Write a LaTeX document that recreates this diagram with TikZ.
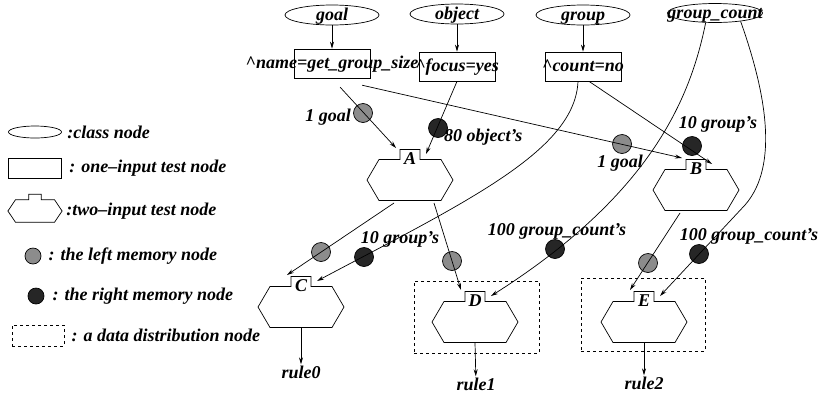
\documentclass[tikz,border=0pt]{standalone}
\usepackage{fontspec}
\setmainfont{Liberation Serif}
\usetikzlibrary{positioning,shapes.geometric,arrows.meta}
\definecolor{lgray}{HTML}{8C8C8C}
\definecolor{dgray}{HTML}{262626}
\newcommand{\boxtxt}[1]{\smash{\makebox[0pt]{\raisebox{-.3em}{#1}}}}
\tikzset{
	classnode/.style={draw, ellipse, inner sep=0pt, minimum width=94pt, minimum height=20pt},
	onein/.style={draw, rectangle, inner sep=0pt, minimum width=76pt, minimum height=29pt},
	lmem/.style={draw, circle, fill=lgray, inner sep=0pt, minimum size=19pt},
	rmem/.style={draw, circle, fill=dgray, inner sep=0pt, minimum size=19pt},
	distbox/.style={draw, dashed, inner sep=0pt},
	lbl/.style={inner sep=1pt},
	twoin/.pic={
			\draw (-43,0) -- (-31,-20.5) -- (-10,-20.5) -- (-10,-30.5) -- (10,-30.5)
			-- (10,-20.5) -- (31,-20.5) -- (43,0) -- (31,20.5) -- (-31,20.5) -- cycle;
			\node[inner sep=0pt] (-t) at (0,-21) {#1};
			\coordinate (-l) at (-14,-32);
			\coordinate (-r) at (16,-26);
			\coordinate (-b) at (0,20.5);
			\coordinate (-bl) at (-16,23);
			\coordinate (-br) at (24,23);
		}
}

\begin{document}
\begin{tikzpicture}[x=1pt, y=-1pt, line width=.7pt,
		>={Stealth[length=7pt,width=4pt]},
		font=\fontsize{18}{21}\selectfont\bfseries\itshape]
	\useasboundingbox (0,0) rectangle (821,397);

	% Legend
	\node[classnode, minimum width=53pt, minimum height=12pt] (lgcls) at (35,132) {};
	\node[lbl, anchor=west] (lgclst) at (66,132) {:class node};
	\node[onein, minimum width=53pt, minimum height=20pt] (lgone) at (35,168) {};
	\node[lbl, anchor=west] (lgonet) at (68,168) {: one--input test node};
	\pic[xscale=.63, yscale=.55] (lgtwo) at (35,211) {twoin={}};
	\node[lbl, anchor=west] (lgtwot) at (65,211) {:two--input test node};
	\node[lmem, minimum size=16pt] (lglm) at (33,256) {};
	\node[lbl, right=6pt of lglm] (lglmt) {: the left memory node};
	\node[rmem, minimum size=16pt] (lgrm) at (36,296) {};
	\node[lbl, right=7pt of lgrm] (lgrmt) {: the right memory node};
	\node[distbox, minimum width=52pt, minimum height=21pt] (lgdist) at (38,335.5) {};
	\node[lbl, right=6pt of lgdist] (lgdistt) {: a data distribution node};

	% Class nodes
	\node[classnode] (goal) at (332,15) {\boxtxt{goal}};
	\node[classnode] (object) at (457,14) {\boxtxt{object}};
	\node[classnode] (group) at (583,15) {\boxtxt{group}};
	\node[classnode, minimum width=95pt, minimum height=19pt] (gcount) at (715,13) {\boxtxt{group\_count}};

	% One-input test nodes
	\node[onein] (goalt) at (332,63.5) {\boxtxt{\textasciicircum name=get\_group\_size}};
	\node[onein] (objt) at (457,66.5) {\boxtxt{\textasciicircum focus=yes}};
	\node[onein] (grpt) at (583,66.5) {\boxtxt{\textasciicircum count=no}};

	% Data distribution nodes
	\node[distbox, minimum width=125pt, minimum height=72pt] (Dbox) at (476.5,317) {};
	\node[distbox, minimum width=124pt, minimum height=73pt] (Ebox) at (643,314.5) {};

	% Two-input test nodes
	\pic (A) at (410,180) {twoin=A};
	\pic (B) at (696,190) {twoin=B};
	\pic (C) at (301,307) {twoin=C};
	\pic (D) at (475,322) {twoin=D};
	\pic (E) at (644,322) {twoin=E};

	% Memories
	\node[lmem] (g1) at (363,113) {};
	\node[lbl, left=1pt of g1, yshift=-4pt] (g1t) {1 goal};
	\node[rmem] (d1) at (438,128) {};
	\node[lbl, right=-5pt of d1, yshift=-9pt] (d1t) {80 object's};
	\node[lmem] (g2) at (622,144) {};
	\node[lbl, below=0pt of g2, xshift=-2pt] (g2t) {1 goal};
	\node[rmem] (d2) at (692,146) {};
	\node[lbl, above=2pt of d2, xshift=26pt] (d2t) {10 group's};
	\node[lmem] (g3) at (321,252) {};
	\node[rmem] (d3) at (364,257) {};
	\node[lbl, above=-1.5pt of d3, xshift=36pt] (d3t) {10 group's};
	\node[lmem] (g4) at (452,261) {};
	\node[rmem] (d4) at (555,249) {};
	\node[lbl, above=-1.5pt of d4, xshift=2pt] (d4t) {100 group\_count's};
	\node[lmem] (g5) at (648,263) {};
	\node[rmem] (d5) at (699,254) {};
	\node[lbl, above=-1.5pt of d5, xshift=50pt] (d5t) {100 group\_count's};

	% Rules
	\node[lbl] (r0) at (301,372) {rule0};
	\node[lbl] (r1) at (476,384) {rule1};
	\node[lbl] (r2) at (644,383) {rule2};

	% Connectors
	\draw[->] (goal) -- (goalt);
	\draw[->] (object) -- (objt);
	\draw[->] (group) -- (grpt);
	\draw[->, shorten <=12pt] (goalt.south) -- (A-l);
	\draw[->] (objt.south) -- (A-r);
	\draw[->, shorten <=31pt] (goalt.south) -- (B-l);
	\draw[->] ([xshift=6pt]grpt.south) -- (B-r);
	\draw[->] ([xshift=-5pt]grpt.south) .. controls (575,150) and (470,200) .. (C-r);
	\draw[->] (A-bl) -- (C-l);
	\draw[->] (A-br) -- (D-l);
	\draw[->] (gcount.-134) .. controls (690,100) and (650,195) .. (D-r);
	\draw[->] (gcount.-18) .. controls (765,90) and (780,165) .. (745,205) -- (E-r);
	\draw[->] (B-bl) -- (E-l);
	\draw[->] (C-b) -- (r0);
	\draw[->] (D-b) -- (r1);
	\draw[->] (E-b) -- (r2);
\end{tikzpicture}
\end{document}
